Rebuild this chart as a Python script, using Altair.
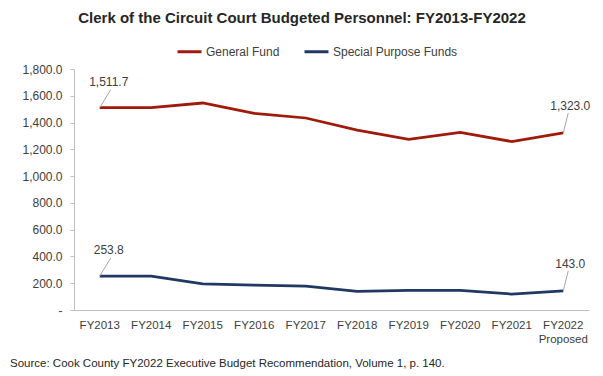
import altair as alt
import pandas as pd

years = ["FY2013", "FY2014", "FY2015", "FY2016", "FY2017", "FY2018",
         "FY2019", "FY2020", "FY2021", "FY2022 Proposed"]
general_fund = [1511.7, 1511.7, 1546.0, 1469.0, 1434.0, 1343.0, 1274.0, 1326.0, 1258.0, 1323.0]
special_funds = [253.8, 253.8, 196.0, 186.0, 178.0, 140.0, 146.0, 147.0, 119.0, 143.0]
series_names = ["General Fund", "Special Purpose Funds"]
series_colors = ["#A01A0C", "#1F3864"]
y_ticks = [0, 200, 400, 600, 800, 1000, 1200, 1400, 1600, 1800]
title_text = "Clerk of the Circuit Court Budgeted Personnel: FY2013-FY2022"
source_text = "Source: Cook County FY2022 Executive Budget Recommendation, Volume 1, p. 140."

rows = []
for i, yr in enumerate(years):
    rows.append({"year": yr, "series": series_names[0], "value": general_fund[i]})
    rows.append({"year": yr, "series": series_names[1], "value": special_funds[i]})
df = pd.DataFrame(rows)

FONT = "Liberation Sans"
TXT = "#404040"
AX = "#BFBFBF"

x_axis = alt.Axis(
    title=None, labelAngle=0, ticks=False, domainColor=AX, domainWidth=1,
    labelPadding=9, labelFontSize=11.5, labelColor=TXT, labelFont=FONT,
    labelLineHeight=14,
    labelExpr="datum.value == 'FY2022 Proposed' ? ['FY2022', 'Proposed'] : datum.label",
)
y_axis = alt.Axis(
    title=None, values=y_ticks, grid=False, domainColor=AX, tickColor=AX,
    tickSize=4, labelPadding=8, labelFontSize=12, labelColor=TXT, labelFont=FONT,
    labelExpr="datum.value == 0 ? '-\u00a0\u00a0\u00a0\u00a0\u00a0' : format(datum.value, ',.1f')",
)

x_enc = alt.X("year:O", sort=years, scale=alt.Scale(domain=years), axis=x_axis)
y_enc = alt.Y("value:Q", scale=alt.Scale(domain=[0, 1800], nice=False), axis=y_axis)

base = alt.Chart(df)

lines = base.mark_line(strokeWidth=2.75).encode(
    x=x_enc,
    y=y_enc,
    color=alt.Color(
        "series:N",
        scale=alt.Scale(domain=series_names, range=series_colors),
        legend=alt.Legend(
            title=None, orient="none", direction="horizontal",
            legendX=102, legendY=-31, symbolType="stroke", symbolSize=576,
            symbolStrokeWidth=3, labelFontSize=12, labelFont=FONT,
            labelColor=TXT, columnPadding=18, labelOffset=3,
        ),
    ),
    detail="series:N",
)

first = base.transform_filter("datum.year == 'FY2013'")
last = base.transform_filter("datum.year == 'FY2022 Proposed'")

lead_first = first.mark_rule(color="#A6A6A6", strokeWidth=1, x2Offset=11, y2Offset=-18).encode(
    x=x_enc, x2="year:O", y=y_enc, y2="value:Q")
lead_last = last.mark_rule(color="#A6A6A6", strokeWidth=1, x2Offset=5, y2Offset=-20).encode(
    x=x_enc, x2="year:O", y=y_enc, y2="value:Q")

lab_first = first.mark_text(font=FONT, fontSize=12, color=TXT, dx=9, dy=-26).encode(
    x=x_enc, y=y_enc, text=alt.Text("value:Q", format=",.1f"))
lab_last = last.mark_text(font=FONT, fontSize=12, color=TXT, dx=7, dy=-27).encode(
    x=x_enc, y=y_enc, text=alt.Text("value:Q", format=",.1f"))

title = alt.Chart(pd.DataFrame({"t": [title_text]})).mark_text(
    font=FONT, fontSize=15, fontWeight="bold", color="#262626", align="center", baseline="middle"
).encode(text="t:N", x=alt.value(228), y=alt.value(-51))

source = alt.Chart(pd.DataFrame({"t": [source_text]})).mark_text(
    font=FONT, fontSize=11.5, color="#262626", align="left", baseline="middle"
).encode(text="t:N", x=alt.value(-64), y=alt.value(295))

chart = alt.layer(lines, lead_first, lead_last, lab_first, lab_last, title, source).properties(
    width=515, height=241,
    autosize=alt.AutoSizeParams(type="none"),
    padding={"left": 74, "top": 69, "right": 14, "bottom": 66},
).configure(background="white").configure_view(stroke=None)

chart.save("out.html", embed_options={"renderer": "svg", "actions": False})
